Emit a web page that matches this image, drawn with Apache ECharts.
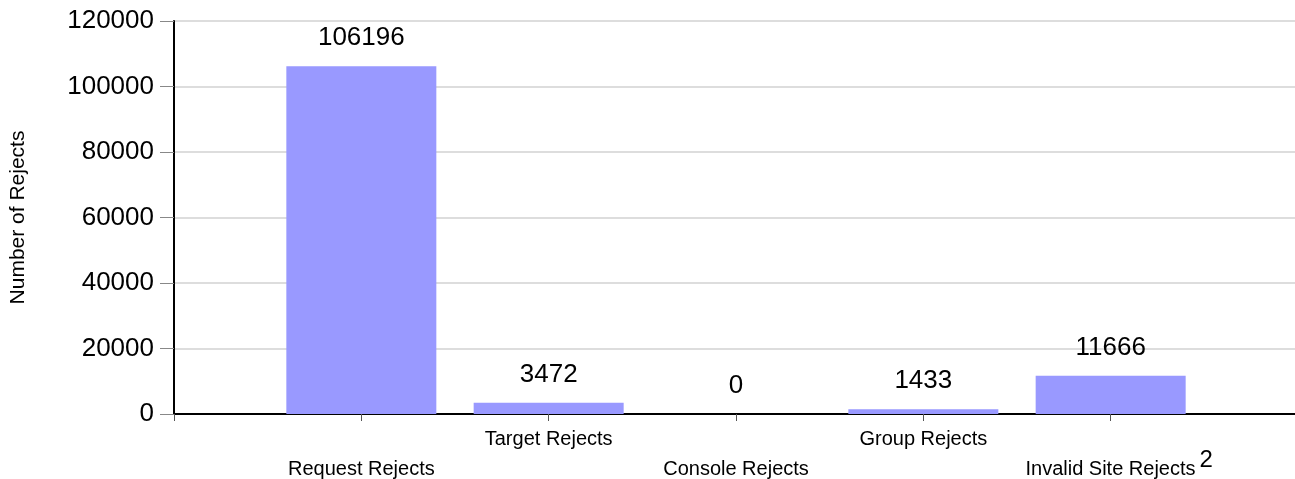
<!DOCTYPE html>
<html>
<head>
<meta charset="utf-8">
<script src="https://cdn.jsdelivr.net/npm/echarts@6/dist/echarts.min.js"></script>
<style>
html,body{margin:0;padding:0;background:#fff;}
#chart{width:1295px;height:479px;}
</style>
</head>
<body>
<div id="chart"></div>
<script>
var categories = ['Request Rejects', 'Target Rejects', 'Console Rejects', 'Group Rejects', 'Invalid Site Rejects'];
var rejects = [106196, 3472, 0, 1433, 11666];
var footnoteCategory = 'Invalid Site Rejects';
var footnoteMark = '2';
var yTicks = { min: 0, max: 120000, interval: 20000 };
var yName = 'Number of Rejects';

var FONT = '"Liberation Sans", Arial, sans-serif';
// pad with empty slots at start and end (axis starts at an empty slot)
var axisData = [''].concat(categories).concat(['']);
var seriesData = ['-'].concat(rejects).concat(['-']);

var chart = echarts.init(document.getElementById('chart'), null, { renderer: 'canvas' });
chart.setOption({
  animation: false,
  backgroundColor: '#fff',
  grid: { left: 174, right: -3, top: 21, bottom: 65, containLabel: false, outerBoundsMode: 'none' },
  xAxis: {
    type: 'category',
    data: axisData,
    boundaryGap: false,
    axisLine: { show: true, lineStyle: { color: '#000', width: 2 } },
    axisTick: { show: true, interval: 0, length: 7, lineStyle: { color: '#555', width: 1 } },
    splitLine: { show: false },
    axisLabel: {
      interval: 0,
      margin: 10,
      hideOverlap: false,
      formatter: function (v, i) {
        if (!v) return '';
        var txt = v === footnoteCategory
          ? '{pad|}{n|' + v + '}{gap|}{sup|' + footnoteMark + '}'
          : '{n|' + v + '}';
        return (i % 2 === 1) ? '{n|}\n' + txt : txt;
      },
      rich: {
        n: { fontSize: 20, lineHeight: 30, color: '#000', fontFamily: FONT },
        pad: { width: 17, lineHeight: 30 },
        gap: { width: 4, lineHeight: 30 },
        sup: { fontSize: 24, height: 12, verticalAlign: 'top', color: '#000', fontFamily: FONT }
      }
    }
  },
  yAxis: {
    type: 'value',
    min: yTicks.min,
    max: yTicks.max,
    interval: yTicks.interval,
    name: yName,
    nameLocation: 'middle',
    nameGap: 145,
    nameRotate: 90,
    nameTextStyle: { fontSize: 21, color: '#000', fontFamily: FONT },
    axisLine: { show: true, lineStyle: { color: '#000', width: 2 } },
    axisTick: { show: true, length: 14, lineStyle: { color: '#888', width: 1 } },
    splitLine: { show: true, lineStyle: { color: '#dddddd', width: 2 } },
    axisLabel: {
      margin: 20, fontSize: 26, color: '#000', fontFamily: FONT,
      formatter: function (v) { return String(v); }
    }
  },
  series: [{
    type: 'bar',
    data: seriesData,
    barWidth: 150,
    itemStyle: { color: '#9999ff' },
    label: {
      show: true,
      position: 'top',
      distance: 15,
      fontSize: 26,
      color: '#000',
      fontFamily: FONT
    }
  }]
});
</script>
</body>
</html>
